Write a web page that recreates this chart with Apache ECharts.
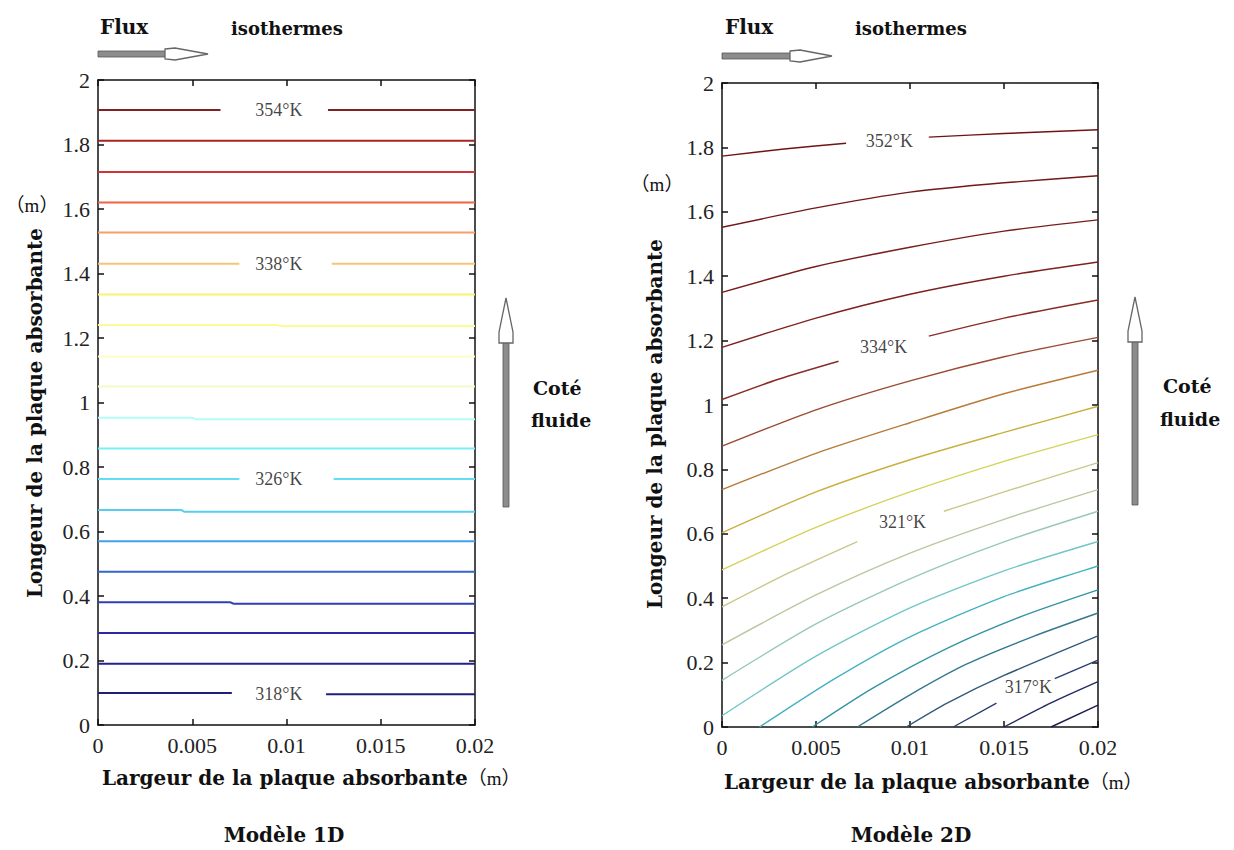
<!DOCTYPE html>
<html>
<head>
<meta charset="utf-8">
<script src="https://cdn.jsdelivr.net/npm/echarts@6/dist/echarts.min.js"></script>
<style>html,body{margin:0;padding:0;background:#fff}#c{width:1234px;height:850px}</style>
</head>
<body>
<div id="c"></div>
<script>
// ---- tick labels ----
const xTickLabels = ['0', '0.005', '0.01', '0.015', '0.02'];
const yTickLabels = ['0', '0.2', '0.4', '0.6', '0.8', '1', '1.2', '1.4', '1.6', '1.8', '2'];

// ---- Modèle 1D isotherms (x m, y m), null = gap for the label ----
const iso1D = [
  [[0,0.099],[0.0071,0.099],null,[0.0121,0.095],[0.02,0.095]],
  [[0,0.19],[0.02,0.19]],
  [[0,0.285],[0.02,0.285]],
  [[0,0.381],[0.007,0.381],[0.0072,0.376],[0.02,0.376]],
  [[0,0.475],[0.02,0.475]],
  [[0,0.57],[0.02,0.57]],
  [[0,0.667],[0.0044,0.667],[0.0046,0.661],[0.02,0.661]],
  [[0,0.763],[0.0075,0.763],null,[0.0125,0.763],[0.02,0.763]],
  [[0,0.857],[0.02,0.857]],
  [[0,0.953],[0.005,0.953],[0.0052,0.948],[0.02,0.948]],
  [[0,1.05],[0.02,1.05]],
  [[0,1.143],[0.02,1.143]],
  [[0,1.24],[0.0095,1.24],[0.0097,1.237],[0.02,1.237]],
  [[0,1.335],[0.02,1.335]],
  [[0,1.43],[0.0075,1.43],null,[0.0124,1.43],[0.02,1.43]],
  [[0,1.527],[0.02,1.527]],
  [[0,1.62],[0.02,1.62]],
  [[0,1.715],[0.02,1.715]],
  [[0,1.812],[0.02,1.812]],
  [[0,1.907],[0.0065,1.907],null,[0.0122,1.907],[0.02,1.907]]
];
const labels1D = [
  ['318°K', 0.0096, 0.097],
  ['326°K', 0.0096, 0.763],
  ['338°K', 0.0096, 1.43],
  ['354°K', 0.0096, 1.907]
];

// ---- Modèle 2D isotherms (top to bottom) ----
const iso2D = [
  [[0,1.773],[0.0033,1.795],[0.0066,1.813],null,[0.011,1.832],[0.015,1.843],[0.02,1.855]],
  [[0,1.552],[0.005,1.612],[0.01,1.661],[0.015,1.69],[0.02,1.712]],
  [[0,1.35],[0.005,1.43],[0.01,1.49],[0.015,1.54],[0.02,1.575]],
  [[0,1.179],[0.005,1.27],[0.01,1.344],[0.015,1.40],[0.02,1.444]],
  [[0,1.017],[0.003,1.08],[0.0062,1.136],null,[0.011,1.214],[0.015,1.27],[0.02,1.326]],
  [[0,0.872],[0.005,0.985],[0.01,1.075],[0.015,1.15],[0.02,1.21]],
  [[0,0.737],[0.005,0.85],[0.01,0.945],[0.015,1.035],[0.02,1.108]],
  [[0,0.603],[0.005,0.73],[0.01,0.83],[0.015,0.915],[0.02,0.996]],
  [[0,0.488],[0.005,0.62],[0.01,0.73],[0.015,0.825],[0.02,0.908]],
  [[0,0.373],[0.0036,0.48],[0.0072,0.576],null,[0.0118,0.67],[0.015,0.73],[0.02,0.821]],
  [[0,0.255],[0.005,0.41],[0.01,0.54],[0.015,0.645],[0.02,0.737]],
  [[0,0.145],[0.005,0.32],[0.01,0.46],[0.015,0.575],[0.02,0.67]],
  [[0,0.035],[0.005,0.22],[0.01,0.37],[0.015,0.485],[0.02,0.576]],
  [[0.002,0],[0.006,0.15],[0.01,0.28],[0.015,0.405],[0.02,0.50]],
  [[0.0048,0],[0.008,0.12],[0.012,0.245],[0.016,0.345],[0.02,0.426]],
  [[0.0072,0],[0.01,0.1],[0.013,0.195],[0.0165,0.28],[0.02,0.354]],
  [[0.0098,0],[0.012,0.075],[0.015,0.16],[0.02,0.283]],
  [[0.0123,0],[0.0146,0.074],null,[0.0177,0.15],[0.02,0.208]],
  [[0.015,0],[0.0175,0.075],[0.02,0.141]],
  [[0.0175,0],[0.02,0.068]]
];
const labels2D = [
  ['352°K', 0.0089, 1.82],
  ['334°K', 0.0086, 1.179],
  ['321°K', 0.0096, 0.638],
  ['317°K', 0.0163, 0.124]
];

// ---- styles ----
const colors1D = ['#1e1e78','#22228c','#2a2aa0','#3040b4','#3464cc','#40a0e8','#58cdf0','#60def2','#78eef8','#b4fcfc',
                  '#f6f8c8','#fdfdc4','#fcfc96','#f8f470','#f6c474','#f6a064','#ee6444','#d03434','#a82424','#802020'];
const colors2D = ['#6e1414','#721818','#781c1c','#7e2020','#8a2c26','#9a4a30','#b87a3a','#c8b040','#d6d25a','#c8c88a',
                  '#b8c8a0','#98c8b8','#70c6c8','#44b2c2','#3494a6','#33788e','#305a7a','#283e70','#222a62','#1c1c52'];

const serif = 'Liberation Serif, serif';
const boldFont = 'DejaVu Serif, serif';
const cjkSerif = 'Liberation Serif, Noto Sans CJK SC, serif';

function splitSegments(line) {
  const segs = []; let cur = [];
  line.forEach(p => { if (p === null) { if (cur.length) segs.push(cur); cur = []; } else cur.push(p); });
  if (cur.length) segs.push(cur);
  return segs;
}

const series = [];
function addIsos(isos, cols, axisIdx, width) {
  isos.forEach((line, i) => {
    splitSegments(line).forEach(seg => {
      series.push({
        type: 'line', xAxisIndex: axisIdx, yAxisIndex: axisIdx, data: seg,
        showSymbol: false, symbol: 'none', smooth: 0.25, silent: true, animation: false,
        lineStyle: { color: cols[i], width: width }
      });
    });
  });
}
function addLabels(labels, axisIdx) {
  series.push({
    type: 'scatter', xAxisIndex: axisIdx, yAxisIndex: axisIdx, symbolSize: 0, silent: true, animation: false,
    itemStyle: { color: 'rgba(0,0,0,0)' },
    data: labels.map(l => ({ name: l[0], value: [l[1], l[2]] })),
    label: { show: true, position: 'inside', formatter: '{b}', fontFamily: serif, fontSize: 18, color: '#111' }
  });
}
addIsos(iso1D, colors1D, 0, 2);
addIsos(iso2D, colors2D, 2, 1.4);
addLabels(labels1D, 0);
addLabels(labels2D, 2);

const xMin = +xTickLabels[0], xMax = +xTickLabels[xTickLabels.length - 1];
const yMin = +yTickLabels[0], yMax = +yTickLabels[yTickLabels.length - 1];
const xInt = +xTickLabels[1] - xMin, yInt = +yTickLabels[1] - yMin;

function xAx(grid, pos, labels) {
  return {
    type: 'value', gridIndex: grid, position: pos, min: xMin, max: xMax, interval: xInt,
    axisLine: { show: true, onZero: false, lineStyle: { color: '#111', width: 1.5 } },
    axisTick: { show: true, inside: true, length: 6, lineStyle: { color: '#111', width: 1.5 } },
    axisLabel: { show: labels, margin: 9, fontFamily: serif, fontSize: 22, color: '#222',
      formatter: v => xTickLabels[Math.round((v - xMin) / xInt)] },
    splitLine: { show: false }
  };
}
function yAx(grid, pos, labels) {
  return {
    type: 'value', gridIndex: grid, position: pos, min: yMin, max: yMax, interval: yInt,
    axisLine: { show: true, onZero: false, lineStyle: { color: '#111', width: 1.5 } },
    axisTick: { show: true, inside: true, length: 6, lineStyle: { color: '#111', width: 1.5 } },
    axisLabel: { show: labels, margin: 8, fontFamily: serif, fontSize: 22, color: '#222',
      formatter: v => yTickLabels[Math.round((v - yMin) / yInt)] },
    splitLine: { show: false }
  };
}

function txt(x, y, text, size, opts) {
  return { type: 'text', x: x, y: y, silent: true,
    style: Object.assign({ text: text, fill: '#111', fontFamily: boldFont, fontWeight: 'bold', fontSize: size,
      verticalAlign: 'middle' }, opts || {}) };
}
function hArrow(x0, xh, xt, y) {
  return [
    { type: 'rect', shape: { x: x0, y: y - 3, width: xh - x0 + 1, height: 6 }, style: { fill: '#8c8c8c', stroke: '#555', lineWidth: 0.8 }, silent: true },
    { type: 'polygon', shape: { points: [[xh, y - 5], [xh + 10, y - 6], [xt, y], [xh + 10, y + 6], [xh, y + 5]] }, style: { fill: '#fff', stroke: '#666', lineWidth: 1.3 }, silent: true }
  ];
}
function vArrow(x, yb, yh, yt) {
  return [
    { type: 'rect', shape: { x: x - 3, y: yh - 1, width: 6, height: yb - yh + 1 }, style: { fill: '#8c8c8c', stroke: '#555', lineWidth: 0.8 }, silent: true },
    { type: 'polygon', shape: { points: [[x - 7, yh], [x - 7, yh - 11], [x, yt], [x + 7, yh - 11], [x + 7, yh]] }, style: { fill: '#fff', stroke: '#666', lineWidth: 1.3 }, silent: true }
  ];
}
const richTitle = {
  b: { fontFamily: boldFont, fontWeight: 'bold', fontSize: 20, fill: '#111' },
  m: { fontFamily: cjkSerif, fontWeight: 'normal', fontSize: 19, fill: '#111' }
};

const graphics = [
  txt(100, 27, 'Flux', 20),
  txt(231, 28, 'isothermes', 18),
  txt(725, 27, 'Flux', 20),
  txt(855, 28, 'isothermes', 18),
  ...hArrow(98, 165, 208, 54),
  ...hArrow(722, 790, 832, 56),
  ...vArrow(506, 507, 343, 298),
  ...vArrow(1135, 505, 342, 297),
  txt(533, 388, 'Coté', 19),
  txt(531, 420, 'fluide', 19),
  txt(1163, 386, 'Coté', 19),
  txt(1160, 419, 'fluide', 19),
  txt(284, 835, 'Modèle 1D', 20, { align: 'center' }),
  txt(911, 835, 'Modèle 2D', 20, { align: 'center' }),
  { type: 'text', x: 102, y: 778, silent: true, style: { text: '{b|Largeur de la plaque absorbante}{m|（m）}', rich: richTitle, verticalAlign: 'middle' } },
  { type: 'text', x: 724, y: 782, silent: true, style: { text: '{b|Largeur de la plaque absorbante}{m|（m）}', rich: richTitle, verticalAlign: 'middle' } },
  { type: 'text', x: 35, y: 413, rotation: Math.PI / 2, silent: true, style: { text: 'Longeur de la plaque absorbante', fontFamily: boldFont, fontWeight: 'bold', fontSize: 20, fill: '#111', align: 'center', verticalAlign: 'middle' } },
  { type: 'text', x: 655, y: 424, rotation: Math.PI / 2, silent: true, style: { text: 'Longeur de la plaque absorbante', fontFamily: boldFont, fontWeight: 'bold', fontSize: 20, fill: '#111', align: 'center', verticalAlign: 'middle' } },
  { type: 'text', x: 32, y: 205, silent: true, style: { text: '（m）', fontFamily: cjkSerif, fontSize: 19, fill: '#111', align: 'center', verticalAlign: 'middle' } },
  { type: 'text', x: 657, y: 184, silent: true, style: { text: '（m）', fontFamily: cjkSerif, fontSize: 19, fill: '#111', align: 'center', verticalAlign: 'middle' } }
];

const chart = echarts.init(document.getElementById('c'), null, { renderer: 'svg', width: 1234, height: 850 });
chart.setOption({
  backgroundColor: '#fff',
  animation: false,
  grid: [
    { left: 98, top: 80, width: 377, height: 645 },
    { left: 722, top: 83, width: 376, height: 644 }
  ],
  xAxis: [xAx(0, 'bottom', true), xAx(0, 'top', false), xAx(1, 'bottom', true), xAx(1, 'top', false)],
  yAxis: [yAx(0, 'left', true), yAx(0, 'right', false), yAx(1, 'left', true), yAx(1, 'right', false)],
  series: series,
  graphic: graphics
});
</script>
</body>
</html>
